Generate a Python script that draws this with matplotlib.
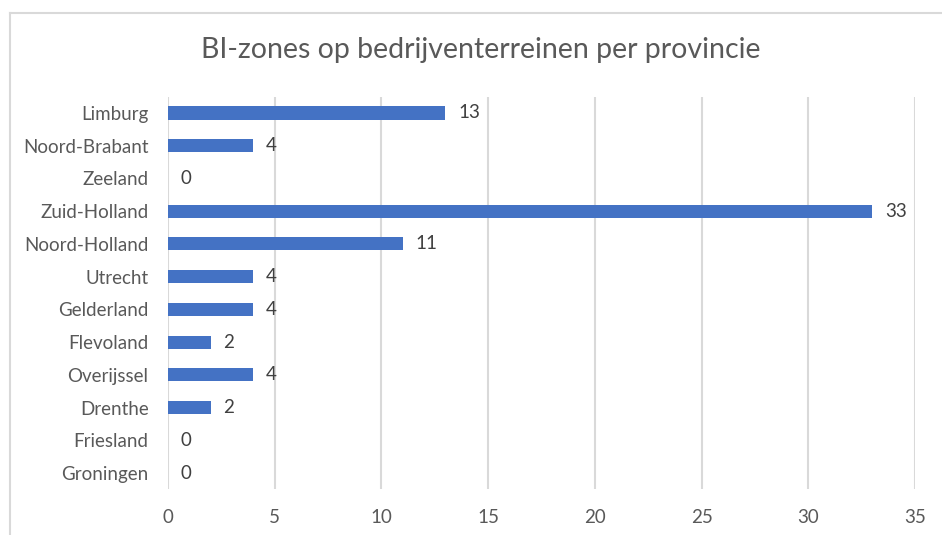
import matplotlib.pyplot as plt

provinces = ['Groningen', 'Friesland', 'Drenthe', 'Overijssel', 'Flevoland',
             'Gelderland', 'Utrecht', 'Noord-Holland', 'Zuid-Holland',
             'Zeeland', 'Noord-Brabant', 'Limburg']
counts = [0, 0, 2, 4, 2, 4, 4, 11, 33, 0, 4, 13]
x_ticks = [0, 5, 10, 15, 20, 25, 30, 35]

bar_color = '#4472C4'
text_color = '#595959'
grid_color = '#D9D9D9'
plt.rcParams['font.family'] = ['Lato', 'DejaVu Sans']

fig = plt.figure(figsize=(9.42, 5.35), dpi=100)
fig.patch.set_facecolor('white')

# chart frame (only top and left edges are visible in the crop)
fig.add_artist(plt.Line2D([10/942, 1], [1-13/535, 1-13/535], transform=fig.transFigure,
                          color='#D9D9D9', lw=1.5))
fig.add_artist(plt.Line2D([10/942, 10/942], [0, 1-13/535], transform=fig.transFigure,
                          color='#D9D9D9', lw=1.5))

ax = fig.add_axes([168/942, 1-489.4/535, (915-168)/942, (489.4-96.6)/535])
y = range(len(provinces))
ax.barh(y, counts, height=0.4, color=bar_color, zorder=3)

for yi, v in zip(y, counts):
    ax.text(v + 0.6, yi, str(v), va='center', ha='left', fontsize=13.5, color='#404040')

ax.set_xlim(0, 35)
ax.set_ylim(-0.5, len(provinces) - 0.5)
ax.set_xticks(x_ticks)
ax.set_yticks(list(y))
ax.set_yticklabels(provinces)
ax.tick_params(axis='both', length=0, labelsize=13.5, colors=text_color)
ax.tick_params(axis='x', pad=14)
ax.tick_params(axis='y', pad=14)
ax.grid(axis='x', color=grid_color, lw=1.5, zorder=0)
for s in ax.spines.values():
    s.set_visible(False)

fig.text(481/942, 1-50/535, 'BI-zones op bedrijventerreinen per provincie',
         ha='center', va='center', fontsize=20.5, color=text_color)

fig.savefig('out.png', dpi=100, facecolor='white')
